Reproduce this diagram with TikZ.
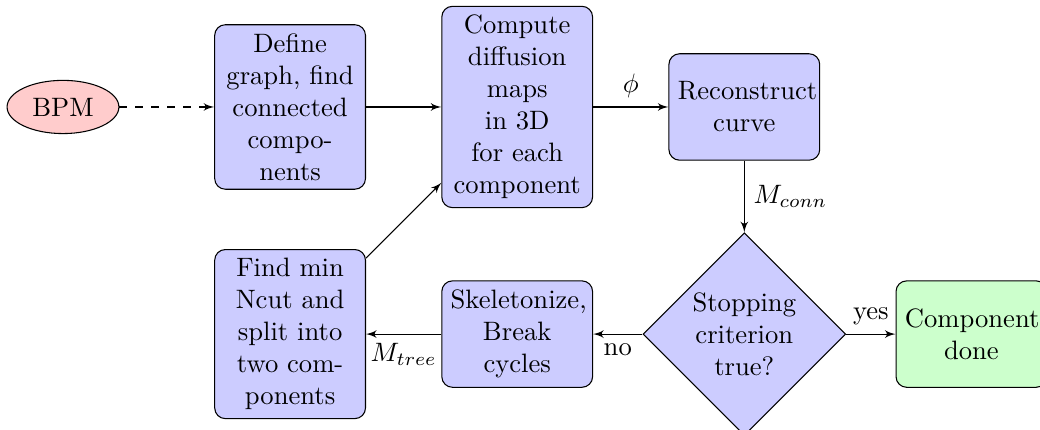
\documentclass[tikz,border=0pt]{standalone}
\usepackage{amsmath}
\usepackage{tikz}
\usetikzlibrary{shapes.geometric,arrows}

\begin{document}
\begin{tikzpicture}[>=latex',
  block/.style={draw, rectangle, fill=blue!20, text width=5em, align=center, rounded corners, minimum height=4em},
  decision/.style={draw, diamond, fill=blue!20, text width=4.5em, align=center, inner sep=0pt},
  cloud/.style={draw, ellipse, fill=red!20, minimum height=2em}]
\useasboundingbox (-0.832,1.413) rectangle (12.906,-4.267);

% Input
\node[cloud] (bpm) at (0,0) {BPM};

% Top row
\node[block] (define) at (3,0) {Define graph, find connected components};
\node[block] (compute) at (6,0) {Compute diffusion maps\\ in 3D\\ for each component};
\node[block] (recon) at (9,0) {Reconstruct curve};

% Bottom row
\node[decision] (decide) at (9,-3) {Stopping criterion true?};
\node[block, fill=green!20] (done) at (12,-3) {Component done};
\node[block] (skel) at (6,-3) {Skeletonize, Break cycles};
\node[block] (ncut) at (3,-3) {Find min Ncut and split into two components};

% Arrows
\draw[->, dashed] (bpm) -- (define);
\draw[->] (define) -- (compute);
\draw[->] (compute) -- node[above] {$\phi$} (recon);
\draw[->] (recon) -- node[right] {$M_{conn}$} (decide);
\draw[->] (decide) -- node[above] {yes} (done);
\draw[->] (decide) -- node[below] {no} (skel);
\draw[->] (skel) -- node[below] {$M_{tree}$} (ncut);

% Loop back
\draw[->] (ncut) -- (compute);

\end{tikzpicture}
\end{document}
